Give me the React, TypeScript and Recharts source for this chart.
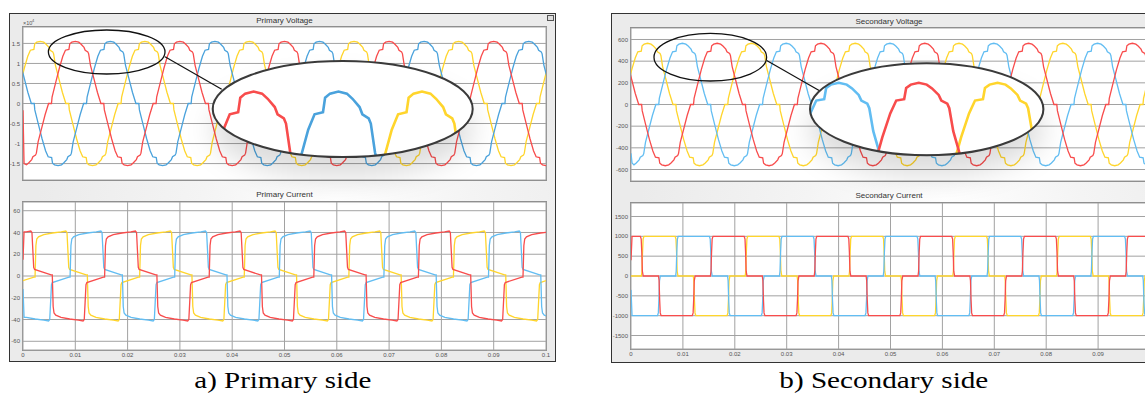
import React from 'react';
import { LineChart, Line, XAxis, YAxis, CartesianGrid } from 'recharts';

// ---------- data ----------
const PERIOD = 0.02; // 50 Hz
const timeTicks = [0, 0.01, 0.02, 0.03, 0.04, 0.05, 0.06, 0.07, 0.08, 0.09, 0.1];
const timeTickLabels = ['0', '0.01', '0.02', '0.03', '0.04', '0.05', '0.06', '0.07', '0.08', '0.09', '0.1'];

const priVoltTicks = [-1.5, -1, -0.5, 0, 0.5, 1, 1.5];
const priCurrTicks = [-60, -40, -20, 0, 20, 40, 60];
const secVoltTicks = [-600, -400, -200, 0, 200, 400, 600];
const secCurrTicks = [-1500, -1000, -500, 0, 500, 1000, 1500];

// one cycle of the stepped phase voltage (angle in degrees)
const voltAngles = [0, 10, 12, 24, 37, 49, 58, 70, 73, 80, 92, 104, 112, 122, 126, 135, 138, 144, 156, 168,
  180, 190, 192, 204, 217, 229, 238, 250, 253, 260, 272, 284, 292, 302, 306, 315, 318, 324, 336, 348];
const priVoltCycle = [0, 0, 0.16, 0.51, 0.88, 1.18, 1.33, 1.35, 1.49, 1.53, 1.55, 1.53, 1.48, 1.4, 1.33, 1.29, 1.24, 0.96, 0.62, 0.28,
  0, 0, -0.16, -0.51, -0.88, -1.18, -1.33, -1.35, -1.49, -1.53, -1.55, -1.53, -1.48, -1.4, -1.33, -1.29, -1.24, -0.96, -0.62, -0.28];
const secVoltCycle = [0, 0, 57, 186, 322, 429, 486, 492, 542, 557, 565, 557, 540, 511, 486, 472, 452, 350, 226, 102,
  0, 0, -57, -186, -322, -429, -486, -492, -542, -557, -565, -557, -540, -511, -486, -472, -452, -350, -226, -102];

// one cycle of the phase currents
const priCurrAngles = [0, 3, 6, 12, 30, 60, 90, 106, 110, 113, 116, 119, 176, 180, 183, 186, 192, 210, 240, 270, 286, 290, 293, 296, 299, 356];
const priCurrCycle = [-1, 28, 34, 36, 38, 39.5, 40.5, 41.3, 40, 24, 8, 6, 1, 1, -28, -34, -36, -38, -39.5, -40.5, -41.3, -40, -24, -8, -6, -1];
const secCurrAngles = [0, 2, 4, 6, 9, 117, 120, 122, 124, 127, 180, 182, 184, 186, 189, 297, 300, 302, 304, 307];
const secCurrCycle = [0, 120, 600, 930, 1000, 1000, 930, 600, 120, 0, 0, -120, -600, -930, -1000, -1000, -930, -600, -120, 0];

// phase colours and cycle start times (s); start transient = [value at t=0, value just after]
const RED = '#f84c4c';
const BLUE = '#4aa2dc';
const LBLUE = '#62bdf2';
const YELLOW = '#ffd52c';

type Init = [number, number] | null;

const priVoltColors = [YELLOW, BLUE, RED];
const priVoltStart = [-0.00181, 0.01159, 0.00489];
const priVoltInit: Init[] = [null, null, [-0.17, -1.5]];

const priCurrColors = [YELLOW, LBLUE, RED];
const priCurrStart = [0.0023, 0.009, -0.0044];
const priCurrInit: Init[] = [null, [-12, -38], [15, 40.5]];

const secVoltColors = [YELLOW, LBLUE, RED];
const secVoltStart = [-0.00191, 0.00479, 0.01149];
const secVoltInit: Init[] = [null, [-450, -540], null];

const secCurrColors = [YELLOW, LBLUE, RED];
const secCurrStart = [0.002, 0.0086, -0.0047];
const secCurrInit: Init[] = [null, [-350, -1000], [400, 1000]];

type Pt = { t: number; v: number };

function buildWave(angles: number[], values: number[], start: number, init: Init): Pt[] {
  const pts: Pt[] = [];
  let lo = -0.004;
  if (init) {
    pts.push({ t: 0, v: init[0] });
    pts.push({ t: 0.0002, v: init[1] });
    lo = 0.0002;
  }
  for (let k = -1; k <= 5; k++) {
    for (let i = 0; i < angles.length; i++) {
      const t = start + k * PERIOD + (angles[i] / 360) * PERIOD;
      if (t > lo && t < 0.104) pts.push({ t, v: values[i] });
    }
  }
  return pts;
}

function buildSet(angles: number[], values: number[], starts: number[], inits: Init[], colors: string[]) {
  return starts.map((s, i) => ({ color: colors[i], data: buildWave(angles, values, s, inits[i]) }));
}

const priVoltSeries = buildSet(voltAngles, priVoltCycle, priVoltStart, priVoltInit, priVoltColors);
const priCurrSeries = buildSet(priCurrAngles, priCurrCycle, priCurrStart, priCurrInit, priCurrColors);
const secVoltSeries = buildSet(voltAngles, secVoltCycle, secVoltStart, secVoltInit, secVoltColors);
const secCurrSeries = buildSet(secCurrAngles, secCurrCycle, secCurrStart, secCurrInit, secCurrColors);

// ---------- components ----------
const SANS = '"Liberation Sans", Arial, sans-serif';
const SERIF = '"Liberation Serif", "Times New Roman", Times, serif';

type Series = { color: string; data: Pt[] };

function Scope(props: {
  left: number; top: number; width: number; height: number;
  yDomain: [number, number]; yTicks: number[]; showX: boolean; series: Series[];
}) {
  const { left, top, width, height, yDomain, yTicks, showX, series } = props;
  const yW = 24;
  const xH = showX ? 12 : 0;
  const padR = 10;
  return (
    <>
      <div style={{ position: 'absolute', left: left - 1, top: top - 1, width, height, border: '1px solid #8f8f8f', background: '#fff' }} />
      <div style={{ position: 'absolute', left: left - yW, top, width: width + yW + padR, height: height + xH }}>
        <LineChart width={width + yW + padR} height={height + xH} margin={{ top: 0, right: padR, bottom: 0, left: 0 }}>
          <CartesianGrid stroke="#a2a2a2" strokeWidth={1} />
          <XAxis
            type="number" dataKey="t" domain={[0, 0.1]} ticks={timeTicks} allowDataOverflow interval={0}
            height={xH} tick={showX ? { fontSize: 6, fill: '#555', fontFamily: SANS } : false}
            tickLine={false} axisLine={false} tickSize={1} tickMargin={2}
            tickFormatter={(v: number) => timeTickLabels[timeTicks.indexOf(v)] ?? String(v)}
          />
          <YAxis
            type="number" domain={yDomain} ticks={yTicks} allowDataOverflow interval={0} width={yW}
            tick={{ fontSize: 6, fill: '#555', fontFamily: SANS }} tickLine={false} axisLine={false}
            tickSize={1} tickMargin={2}
          />
          {series.map((s, i) => (
            <Line key={i} data={s.data} dataKey="v" type="linear" stroke={s.color} strokeWidth={1.3}
              dot={false} activeDot={false} isAnimationActive={false} />
          ))}
        </LineChart>
      </div>
    </>
  );
}

function Inset(props: {
  cx: number; cy: number; rx: number; ry: number;
  xDomain: [number, number]; yDomain: [number, number]; yTicks: number[]; series: Series[];
}) {
  const { cx, cy, rx, ry, xDomain, yDomain, yTicks, series } = props;
  const w = rx * 2;
  const h = ry * 2;
  return (
    <div style={{ position: 'absolute', left: cx - rx, top: cy - ry, width: w, height: h, filter: 'drop-shadow(0px 20px 14px rgba(0,0,0,0.14))' }}>
      <div style={{ width: w, height: h, background: '#fff', clipPath: 'ellipse(50% 50% at 50% 50%)' }}>
        <LineChart width={w} height={h} margin={{ top: 0, right: 0, bottom: 0, left: 0 }}>
          <CartesianGrid stroke="#b0b0b0" strokeWidth={1.4} />
          <XAxis type="number" dataKey="t" domain={xDomain} ticks={[0.01, 0.02]} allowDataOverflow height={0} tick={false} axisLine={false} tickLine={false} />
          <YAxis type="number" domain={yDomain} ticks={yTicks} allowDataOverflow width={0} tick={false} axisLine={false} tickLine={false} />
          {series.map((s, i) => (
            <Line key={i} data={s.data} dataKey="v" type="linear" stroke={s.color} strokeWidth={2.6}
              dot={false} activeDot={false} isAnimationActive={false} />
          ))}
        </LineChart>
      </div>
    </div>
  );
}

function Title({ x, y, text }: { x: number; y: number; text: string }) {
  return (
    <div style={{ position: 'absolute', left: x - 60, top: y, width: 120, textAlign: 'center', fontFamily: SANS, fontSize: 8, color: '#333', lineHeight: '9px' }}>
      {text}
    </div>
  );
}

const panelBg = 'radial-gradient(ellipse 55% 35% at 60% 54%, #ffffff 0%, #f4f4f4 45%, #ebebeb 100%)';

export default function App() {
  return (
    <div style={{ position: 'absolute', left: 0, top: 0, width: 1145, height: 394, overflow: 'hidden', background: '#fff' }}>
      {/* panels */}
      <div style={{ position: 'absolute', left: 9, top: 13, width: 545, height: 347, border: '1.5px solid #333', background: panelBg }} />
      <div style={{ position: 'absolute', left: 611, top: 13, width: 555, height: 348, border: '1.5px solid #333', background: panelBg }} />
      <div style={{ position: 'absolute', left: 547, top: 15, width: 5, height: 4, border: '1px solid #555', background: '#ddd' }} />

      <Title x={284.5} y={16} text="Primary Voltage" />
      <Title x={284.5} y={190} text="Primary Current" />
      <Title x={889} y={17} text="Secondary Voltage" />
      <Title x={889} y={191} text="Secondary Current" />

      <Scope left={23} top={27} width={523} height={153} yDomain={[-1.91, 1.91]} yTicks={priVoltTicks} showX={false} series={priVoltSeries} />
      <Scope left={23} top={202} width={523} height={148} yDomain={[-68, 68]} yTicks={priCurrTicks} showX={true} series={priCurrSeries} />
      <Scope left={631} top={28} width={519} height={153} yDomain={[-706, 706]} yTicks={secVoltTicks} showX={false} series={secVoltSeries} />
      <Scope left={631} top={203} width={519} height={146} yDomain={[-1840, 1840]} yTicks={secCurrTicks} showX={true} series={secCurrSeries} />

      <Inset cx={342.7} cy={109} rx={130} ry={48} xDomain={[0.00679, 0.02733]} yDomain={[0.916, 1.846]} yTicks={[1, 1.5]} series={priVoltSeries} />
      <Inset cx={926.7} cy={109.2} rx={116.7} ry={46} xDomain={[0.00749, 0.02704]} yDomain={[244, 653]} yTicks={[400, 600]} series={secVoltSeries} />

      <svg width={1145} height={394} style={{ position: 'absolute', left: 0, top: 0, pointerEvents: 'none' }}>
        {/* x10^4 exponent label */}
        <text x={23} y={25} fontFamily={SANS} fontSize={5.5} fill="#555">×10</text>
        <text x={32} y={22} fontFamily={SANS} fontSize={4} fill="#555">4</text>
        {/* magnifier callouts */}
        <ellipse cx={106.7} cy={52} rx={58.3} ry={22} fill="none" stroke="#111" strokeWidth={1.3} />
        <line x1={165} y1={56.7} x2={221.7} y2={89.3} stroke="#111" strokeWidth={1.2} />
        <ellipse cx={342.7} cy={109} rx={130} ry={48} fill="none" stroke="#3a3a3a" strokeWidth={2} />
        <ellipse cx={710.3} cy={57.2} rx={56.3} ry={23.8} fill="none" stroke="#111" strokeWidth={1.3} />
        <line x1={766.7} y1={60.5} x2={820} y2={91} stroke="#111" strokeWidth={1.2} />
        <ellipse cx={926.7} cy={109.2} rx={116.7} ry={46} fill="none" stroke="#3a3a3a" strokeWidth={2} />
        {/* captions */}
        <text x={194.3} y={388} style={{ fontFamily: SERIF }} fontSize={23} fill="#000" textLength={177} lengthAdjust="spacingAndGlyphs">a) Primary side</text>
        <text x={779.3} y={388} style={{ fontFamily: SERIF }} fontSize={23} fill="#000" textLength={209} lengthAdjust="spacingAndGlyphs">b) Secondary side</text>
      </svg>
    </div>
  );
}
